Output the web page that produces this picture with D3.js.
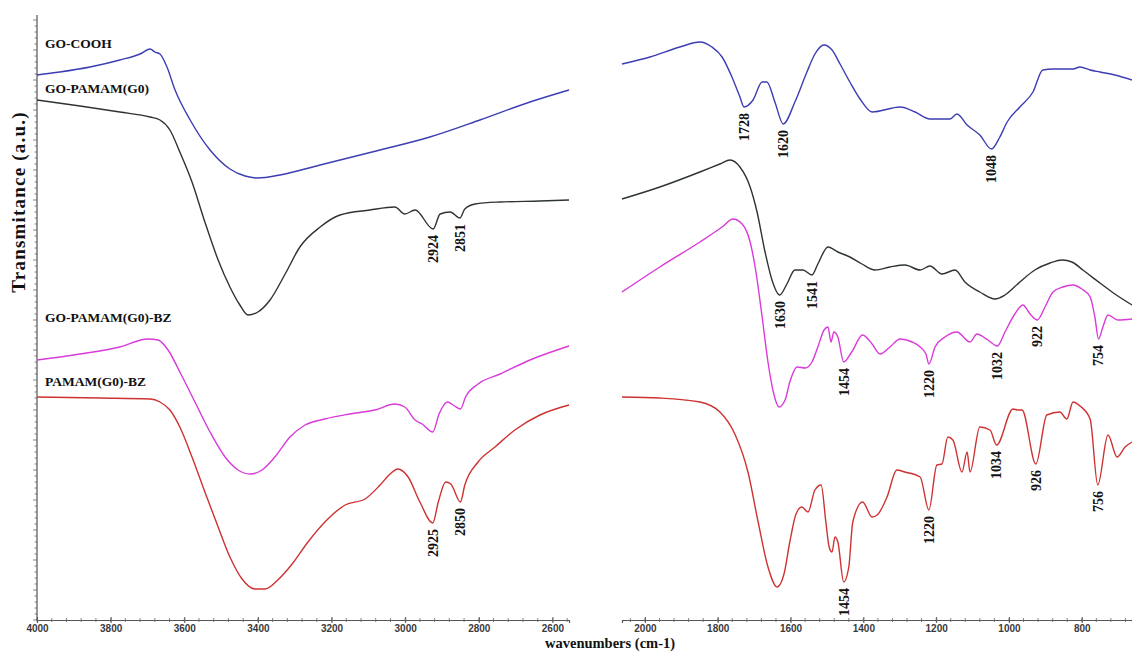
<!DOCTYPE html>
<html>
<head>
<meta charset="utf-8">
<script src="https://cdn.jsdelivr.net/npm/d3@7"></script>
<style>
  body { margin: 0; background: #fff; }
  svg { display: block; }
</style>
</head>
<body>
<svg id="chart" width="1132" height="651"></svg>
<script>
// spectra: [wavenumber (cm-1), transmittance (a.u.)]
const goCooh = [
  [4000,54.5],[3938,54.8],[3856,55.3],[3775,56.0],[3720,56.6],[3693,57.1],[3680,56.8],[3666,56.6],
  [3647,55.3],[3625,53.0],[3584,50.0],[3530,47.0],[3476,45.1],[3435,44.4],[3400,44.2],[3340,44.5],
  [3231,45.5],[3068,47.0],[2933,48.3],[2797,50.0],[2661,51.8],[2555,53.0],
  [2063,55.6],[1986,56.3],[1904,57.3],[1849,57.8],[1816,57.3],[1788,56.3],[1761,54.3],[1739,52.3],
  [1728,51.3],[1703,52.0],[1678,53.8],[1665,53.8],[1643,51.8],[1620,49.6],[1588,51.8],[1555,54.8],
  [1533,56.6],[1508,57.5],[1486,57.0],[1464,55.6],[1437,53.8],[1409,52.1],[1376,50.8],[1299,51.3],
  [1258,50.8],[1217,50.1],[1162,50.1],[1143,50.6],[1115,49.5],[1080,48.5],[1048,47.1],[1025,48.3],
  [1005,49.8],[970,51.3],[934,52.8],[907,55.0],[879,55.1],[824,55.1],[805,55.3],[777,55.0],
  [750,54.8],[709,54.5],[662,54.0]
];
const goPamam = [
  [4000,52.0],[3883,51.4],[3775,50.8],[3693,50.3],[3666,50.0],[3639,49.0],[3612,46.8],[3579,43.8],
  [3544,39.8],[3508,36.0],[3476,33.3],[3449,31.5],[3427,30.5],[3400,30.8],[3367,32.0],[3326,34.6],
  [3286,37.3],[3231,39.3],[3177,40.5],[3096,41.0],[3028,41.3],[3001,40.6],[2973,41.0],[2924,39.1],
  [2905,40.6],[2878,40.8],[2851,40.2],[2838,41.1],[2810,41.6],[2742,41.8],[2634,41.9],[2555,42.0],
  [2063,42.1],[1959,43.3],[1849,44.8],[1794,45.6],[1766,46.0],[1739,45.3],[1711,43.3],[1692,40.8],
  [1670,36.8],[1651,34.0],[1630,32.5],[1610,33.6],[1588,35.0],[1566,35.0],[1541,34.5],[1525,35.6],
  [1497,37.3],[1470,36.8],[1437,36.3],[1404,35.6],[1368,35.0],[1327,35.3],[1286,35.5],[1244,35.0],
  [1217,35.4],[1184,34.6],[1148,35.0],[1121,33.8],[1080,32.8],[1038,32.1],[1011,32.5],[970,33.8],
  [929,35.0],[887,35.7],[854,36.0],[827,35.8],[797,35.0],[750,33.7],[709,32.6],[662,31.5]
];
const goPamamBz = [
  [4000,26.0],[3883,26.6],[3775,27.3],[3699,28.1],[3671,28.0],[3644,27.0],[3612,24.8],[3571,21.8],
  [3530,18.8],[3489,16.3],[3454,15.0],[3421,14.6],[3389,15.0],[3354,16.3],[3313,18.3],[3272,19.5],
  [3218,20.1],[3150,20.6],[3082,21.0],[3028,21.6],[3001,21.3],[2973,20.0],[2954,19.6],[2925,18.8],
  [2908,20.6],[2885,21.8],[2866,21.4],[2850,21.1],[2836,22.3],[2802,23.6],[2742,24.6],[2661,26.0],
  [2555,27.4],
  [2063,32.8],[1959,35.3],[1849,37.8],[1788,39.3],[1758,40.1],[1733,39.6],[1711,37.8],[1695,34.8],
  [1678,30.3],[1662,25.8],[1646,22.6],[1632,21.3],[1615,22.0],[1602,23.8],[1582,25.3],[1560,25.2],
  [1541,25.8],[1525,27.3],[1508,29.0],[1497,29.3],[1489,27.8],[1481,28.8],[1470,28.3],[1454,25.8],
  [1432,26.8],[1402,28.5],[1376,27.6],[1354,26.6],[1327,27.3],[1299,28.1],[1266,27.8],[1244,27.3],
  [1228,26.6],[1220,25.6],[1203,27.3],[1176,28.3],[1143,28.8],[1107,27.8],[1088,28.6],[1058,28.0],
  [1032,27.4],[1011,28.8],[984,30.6],[962,31.5],[942,30.6],[922,30.0],[901,31.3],[879,32.8],
  [852,33.3],[824,33.5],[800,33.1],[777,32.3],[764,30.3],[754,28.1],[742,29.3],[728,30.5],
  [701,30.0],[662,30.1]
];
const pamamBz = [
  [4000,22.3],[3829,22.2],[3693,22.1],[3666,21.8],[3639,21.0],[3612,19.3],[3579,16.3],[3544,12.8],
  [3508,9.3],[3476,6.3],[3443,4.1],[3408,3.1],[3381,3.1],[3346,4.0],[3307,5.6],[3264,7.8],
  [3218,9.8],[3163,11.5],[3109,12.1],[3068,13.5],[3041,14.6],[3020,15.1],[2992,14.3],[2960,11.8],
  [2925,9.7],[2910,11.8],[2890,13.8],[2876,13.6],[2850,11.8],[2838,13.5],[2802,15.8],[2756,17.3],
  [2702,19.0],[2634,20.5],[2555,21.5],
  [2063,22.3],[1959,22.2],[1849,21.8],[1794,20.8],[1753,18.6],[1717,14.8],[1689,9.8],[1662,5.3],
  [1637,3.3],[1618,4.6],[1602,7.8],[1585,10.6],[1569,11.3],[1552,10.8],[1533,13.0],[1516,13.5],
  [1503,9.8],[1494,7.3],[1486,6.8],[1478,8.3],[1470,7.8],[1454,3.8],[1440,5.3],[1429,9.8],
  [1402,11.8],[1376,10.3],[1362,10.5],[1335,12.3],[1308,15.0],[1286,14.8],[1244,14.3],[1220,11.0],
  [1198,15.5],[1184,15.6],[1168,18.3],[1154,18.0],[1129,14.8],[1115,16.8],[1107,14.8],[1080,19.3],
  [1052,19.0],[1034,17.5],[989,21.1],[975,21.0],[964,21.0],[926,15.6],[896,20.5],[860,20.8],
  [841,20.1],[824,21.8],[805,21.4],[777,20.1],[756,13.5],[728,18.5],[703,16.3],[681,17.3],[662,17.8]
];

const seriesNames = ["GO-COOH", "GO-PAMAM(G0)", "GO-PAMAM(G0)-BZ", "PAMAM(G0)-BZ"];
const seriesData = [goCooh, goPamam, goPamamBz, pamamBz];
const seriesColors = ["#3d3db3", "#2e352e", "#d93ad9", "#cf3232"];

// peak annotations: [label, series index]
const peaks = [
  ["2924", 1], ["2851", 1], ["2925", 3], ["2850", 3],
  ["1728", 0], ["1620", 0], ["1048", 0],
  ["1630", 1], ["1541", 1],
  ["1454", 2], ["1220", 2], ["1032", 2], ["922", 2], ["754", 2],
  ["1220", 3], ["1034", 3], ["926", 3], ["756", 3], ["1454", 3]
];

const leftTicks = [4000, 3800, 3600, 3400, 3200, 3000, 2800, 2600];
const rightTicks = [2000, 1800, 1600, 1400, 1200, 1000, 800];

const svg = d3.select("#chart");
const serif = "'Liberation Serif', 'Times New Roman', serif";

const xLeft = d3.scaleLinear().domain([4000, 2555]).range([37, 569]);
const xRight = d3.scaleLinear().domain([2063, 662]).range([622, 1132]);
const y = d3.scaleLinear().domain([0, 60]).range([620, 20]);
const yBase = 620;

// x axes
function drawAxis(scale, ticks, step) {
  const g = svg.append("g").attr("transform", `translate(0,${yBase})`);
  g.call(d3.axisBottom(scale).tickValues(ticks).tickSize(3).tickFormat(d3.format("d")));
  g.select(".domain").attr("stroke", "#555").attr("stroke-width", 1.2);
  g.selectAll(".tick line").attr("stroke", "#555").attr("y1", -3);
  g.selectAll(".tick text")
    .attr("font-family", "'Liberation Sans', Arial, sans-serif")
    .attr("font-size", 10)
    .attr("font-weight", "bold")
    .attr("fill", "#3a3a3a")
    .attr("dy", "0.6em");
  const d = scale.domain();
  const minor = d3.range(Math.ceil(d[1] / step) * step, d[0] + 1, step);
  g.selectAll(".minor").data(minor).enter().append("line")
    .attr("x1", v => scale(v)).attr("x2", v => scale(v))
    .attr("y1", -2).attr("y2", 2)
    .attr("stroke", "#666").attr("stroke-width", 0.8);
}
drawAxis(xLeft, leftTicks, 40);
drawAxis(xRight, rightTicks, 40);

// y axis with dense ticks
const yg = svg.append("g").attr("transform", "translate(37,0)");
yg.append("line").attr("x1", 0).attr("x2", 0).attr("y1", 15).attr("y2", yBase)
  .attr("stroke", "#555").attr("stroke-width", 1.2);
yg.selectAll(".yt").data(d3.range(0, 60.5, 0.6)).enter().append("line")
  .attr("x1", (v, i) => (i % 5 === 0 ? -4 : -2.5)).attr("x2", 0)
  .attr("y1", v => y(v)).attr("y2", v => y(v))
  .attr("stroke", "#666").attr("stroke-width", 0.8);

// spectra
const lineL = d3.line().x(d => xLeft(d[0])).y(d => y(d[1])).curve(d3.curveMonotoneX);
const lineR = d3.line().x(d => xRight(d[0])).y(d => y(d[1])).curve(d3.curveMonotoneX);
seriesData.forEach((data, i) => {
  svg.append("path").datum(data.filter(d => d[0] > 2300))
    .attr("d", lineL).attr("fill", "none")
    .attr("stroke", seriesColors[i]).attr("stroke-width", 1.4);
  svg.append("path").datum(data.filter(d => d[0] < 2300))
    .attr("d", lineR).attr("fill", "none")
    .attr("stroke", seriesColors[i]).attr("stroke-width", 1.4);
});

// series names
const nameY = [48, 93, 322, 386];
svg.selectAll(".name").data(seriesNames).enter().append("text")
  .attr("x", 45).attr("y", (d, i) => nameY[i])
  .attr("font-family", serif).attr("font-weight", "bold").attr("font-size", 13.5)
  .attr("fill", "#111").text(d => d);

// peak labels, placed just under the dip
peaks.forEach(([label, si]) => {
  const wn = +label;
  const sx = wn > 2300 ? xLeft : xRight;
  const near = seriesData[si].filter(d => Math.abs(d[0] - wn) <= 12);
  const low = d3.min(near, d => d[1]);
  svg.append("text")
    .attr("transform", `translate(${sx(wn)},${y(low) + 6}) rotate(-90)`)
    .attr("text-anchor", "end").attr("dy", "0.35em")
    .attr("font-family", serif).attr("font-weight", "bold").attr("font-size", 14)
    .attr("fill", "#111").text(label);
});

// axis titles
svg.append("text")
  .attr("transform", "translate(18,202) rotate(-90)")
  .attr("text-anchor", "middle").attr("dy", "0.35em")
  .attr("font-family", serif).attr("font-weight", "bold").attr("font-size", 19)
  .attr("letter-spacing", 1.2)
  .attr("fill", "#111").text("Transmitance (a.u.)");
svg.append("text")
  .attr("x", 545).attr("y", 648)
  .attr("font-family", serif).attr("font-weight", "bold").attr("font-size", 14.5)
  .attr("fill", "#111").text("wavenumbers (cm-1)");
</script>
</body>
</html>
